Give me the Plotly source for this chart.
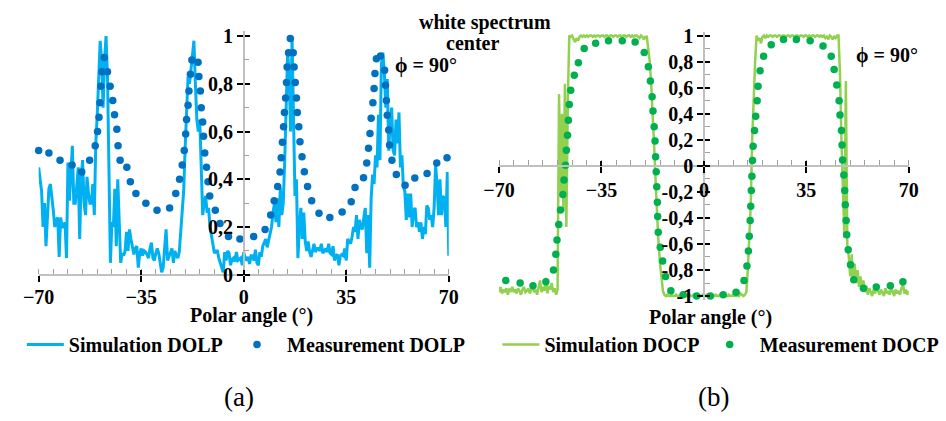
import numpy as np
import plotly.graph_objects as go

# ---------------- data ----------------
angle_start, angle_stop = -70, 70  # simulation sampled every 0.5 degree

sim_dolp = [
    0.45, 0.40, 0.35, 0.20, 0.30, 0.12, 0.25, 0.36, 0.38, 0.33, 0.27, 0.20, 0.23, 0.24, 0.075, 0.24, 0.20, 0.20, 0.22, 0.07,
    0.47, 0.31, 0.44, 0.54, 0.30, 0.30, 0.37, 0.45, 0.15, 0.40, 0.48, 0.30, 0.25, 0.41, 0.34, 0.30, 0.30, 0.38, 0.25, 0.55,
    0.67, 0.85, 0.98, 0.90, 0.70, 0.90, 1.00, 0.83, 0.45, 0.05, 0.22, 0.20, 0.36, 0.12, 0.40, 0.17, 0.05, 0.09, 0.08, 0.10,
    0.18, 0.10, 0.19, 0.15, 0.11, 0.085, 0.11, 0.12, 0.03, 0.09, 0.11, 0.08, 0.10, 0.095, 0.085, 0.07, 0.11, 0.135, 0.07, 0.06,
    0.09, 0.11, 0.09, 0.04, 0.01, 0.03, 0.12, 0.19, 0.06, 0.08, 0.10, 0.11, 0.05, 0.10, 0.08, 0.07, 0.095, 0.17, 0.28, 0.35,
    0.53, 0.71, 0.83, 0.80, 0.86, 0.95, 0.98, 0.80, 0.65, 0.60, 0.65, 0.45, 0.25, 0.30, 0.33, 0.26, 0.28, 0.20, 0.16, 0.12,
    0.09, 0.10, 0.10, 0.07, 0.05, 0.03, 0.01, 0.095, 0.06, 0.10, 0.09, 0.04, 0.065, 0.07, 0.055, 0.095, 0.06, 0.065, 0.07, 0.04,
    0.095, 0.07, 0.06, 0.075, 0.045, 0.08, 0.08, 0.06, 0.105, 0.05, 0.04, 0.095, 0.075, 0.12, 0.14, 0.15, 0.115, 0.14, 0.17, 0.20,
    0.26, 0.30, 0.22, 0.32, 0.20, 0.365, 0.25, 0.30, 0.48, 0.75, 0.93, 0.85, 0.60, 0.99, 0.60, 0.33, 0.40, 0.07, 0.20, 0.28,
    0.15, 0.26, 0.14, 0.10, 0.14, 0.095, 0.075, 0.10, 0.13, 0.095, 0.11, 0.11, 0.10, 0.13, 0.09, 0.10, 0.11, 0.095, 0.13, 0.09,
    0.085, 0.12, 0.06, 0.08, 0.085, 0.04, 0.08, 0.085, 0.08, 0.11, 0.06, 0.15, 0.14, 0.13, 0.16, 0.20, 0.18, 0.25, 0.15, 0.23,
    0.20, 0.19, 0.24, 0.28, 0.09, 0.25, 0.03, 0.32, 0.42, 0.38, 0.50, 0.45, 0.67, 0.48, 0.88, 0.93, 0.85, 0.70, 0.82, 0.52,
    0.64, 0.70, 0.52, 0.50, 0.65, 0.55, 0.68, 0.45, 0.50, 0.37, 0.35, 0.23, 0.34, 0.24, 0.34, 0.20, 0.27, 0.28, 0.20, 0.22,
    0.18, 0.22, 0.15, 0.20, 0.17, 0.29, 0.28, 0.23, 0.25, 0.20, 0.28, 0.46, 0.38, 0.25, 0.40, 0.25, 0.33, 0.32, 0.20, 0.43,
    0.08,
]

meas_dolp_angle = [
    -70, -66.5, -62.7, -58.6, -55.3, -52.6, -50.7, -49.9, -49.4, -49.1, -48.8, -48.4, -47.6, -46.5, -45.6, -44.7,
    -44.1, -43.3, -42.9, -42.2, -39.9, -38.7, -36.8, -33.4, -29.6, -25.3, -23.2, -21.9, -21.0, -20.3, -19.8, -19.5,
    -19.0, -18.7, -18.2, -17.7, -15.6, -15.3, -14.8, -14.5, -14.0, -13.7, -13.3, -12.7, -12.2, -11.6, -9.7, -8.1,
    -5.2, -1.3, 3.4, 7.3, 9.2, 10.4, 11.6, 12.4, 12.8, 13.2, 13.6, 13.9, 14.3, 14.6, 14.8, 15.3, 15.9, 16.9, 17.2,
    17.6, 18.0, 18.3, 18.8, 19.2, 19.9, 20.7, 21.8, 23.2, 25.7, 29.4, 33.6, 36.7, 38.0, 40.9, 42.0, 42.6, 43.1, 43.5,
    44.1, 44.5, 44.8, 45.3, 46.7, 48.1, 48.4, 48.7, 49.0, 49.5, 49.8, 50.6, 52.1, 55.1, 58.4, 62.6, 65.9, 69.4,
]
meas_dolp = [
    0.52, 0.51, 0.48, 0.46, 0.43, 0.48, 0.54, 0.60, 0.66, 0.72, 0.79, 0.85, 0.91, 0.85, 0.79, 0.73,
    0.67, 0.61, 0.54, 0.48, 0.45, 0.39, 0.34, 0.30, 0.27, 0.28, 0.34, 0.40, 0.46, 0.52, 0.59, 0.65,
    0.71, 0.77, 0.84, 0.90, 0.89, 0.83, 0.77, 0.70, 0.64, 0.58, 0.51, 0.45, 0.39, 0.33, 0.27, 0.215,
    0.16, 0.15, 0.16, 0.19, 0.25, 0.31, 0.37, 0.43, 0.49, 0.555, 0.62, 0.68, 0.74, 0.805, 0.87, 0.93, 0.99, 0.93, 0.87,
    0.805, 0.74, 0.68, 0.62, 0.557, 0.494, 0.432, 0.37, 0.31, 0.258, 0.24, 0.263, 0.306, 0.366, 0.406, 0.468, 0.53, 0.592, 0.656,
    0.72, 0.78, 0.843, 0.905, 0.916, 0.857, 0.794, 0.73, 0.668, 0.606, 0.544, 0.48, 0.42, 0.375, 0.405, 0.424, 0.468, 0.49,
]

sim_docp = [
    -0.97, -0.93, -0.98, -0.95, -0.97, -0.94, -0.99, -0.95, -0.96, -0.93, -0.97, -0.95, -0.98, -0.94, -0.96, -0.99, -0.95, -0.93, -0.97, -0.96,
    -0.94, -0.98, -0.95, -0.92, -0.97, -0.95, -0.99, -0.94, -0.88, -0.97, -0.93, -0.96, -0.86, -0.98, -0.92, -0.95, -0.90, -0.97, -0.94, -0.99,
    -0.95, 0.55, -0.20, 0.40, -0.35, 0.63, -0.47, 0.50, 1.00, 0.99, 1.00, 0.97, 0.95, 0.98, 0.96, 0.99, 1.00, 0.99, 1.00, 0.99,
    1.00, 0.99, 1.00, 1.00, 0.99, 1.00, 0.99, 1.00, 1.00, 0.99, 1.00, 1.00, 0.99, 1.00, 1.00, 0.99, 1.00, 1.00, 0.99, 1.00,
    1.00, 0.99, 1.00, 1.00, 0.99, 1.00, 1.00, 0.99, 1.00, 1.00, 0.99, 1.00, 0.99, 1.00, 1.00, 0.99, 0.98, 1.00, 0.99, 0.97,
    0.99, 0.99, 0.90, 0.80, 0.62, 0.42, 0.15, -0.12, -0.42, -0.60, -0.75, -0.87, -0.96, -0.99, -1.00, -0.99, -1.00, -1.00, -0.99, -1.00,
    -1.00, -0.99, -1.00, -1.00, -0.99, -1.00, -1.00, -0.99, -1.00, -1.00, -0.99, -1.00, -1.00, -0.99, -1.00, -1.00, -0.99, -1.00, -1.00, -0.99,
    -1.00, -1.00, -0.99, -1.00, -1.00, -0.99, -1.00, -1.00, -0.99, -1.00, -1.00, -0.99, -1.00, -1.00, -0.99, -1.00, -1.00, -0.99, -1.00, -1.00,
    -0.99, -1.00, -1.00, -0.99, -1.00, -0.98, -0.99, -1.00, -0.99, -0.97, -0.80, -0.55, -0.30, 0.20, 0.55, 0.80, 1.00, 0.96, 0.98, 0.94,
    0.99, 1.00, 0.98, 1.00, 0.99, 1.00, 1.00, 0.99, 1.00, 1.00, 0.99, 1.00, 1.00, 0.99, 1.00, 1.00, 0.99, 1.00, 1.00, 0.99,
    1.00, 1.00, 0.99, 1.00, 1.00, 0.99, 1.00, 1.00, 0.99, 1.00, 1.00, 0.99, 1.00, 0.99, 1.00, 1.00, 0.99, 1.00, 1.00, 0.99,
    1.00, 0.99, 1.00, 0.98, 0.99, 0.97, 1.00, 0.99, 0.97, 0.99, 0.98, 1.00, 1.00, 0.70, 0.20, -0.20, -0.55, 0.65, -0.60, -0.70,
    -0.85, -0.68, -0.90, -0.75, -0.90, -0.80, -0.93, -0.85, -0.95, -0.88, -0.97, -0.92, -0.99, -0.94, -0.97, -1.00, -0.95, -0.98, -0.93, -0.97,
    -0.99, -0.95, -0.97, -1.00, -0.94, -0.98, -0.96, -0.99, -0.93, -0.97, -1.00, -0.95, -0.98, -0.96, -0.99, -0.94, -0.90, -0.98, -0.95, -0.99,
    -0.96,
]

meas_docp_angle = [
    -67.7, -62.8, -58.4, -54.0, -51.4, -50.6, -50.2, -49.6, -49.0, -48.2, -47.8, -47.3, -47.0, -46.6, -46.3, -46.0,
    -45.5, -44.3, -42.9, -40.9, -37.0, -32.6, -27.9, -23.5, -20.4, -19.0, -18.3, -17.7, -17.4, -17.0, -16.7, -16.5,
    -16.3, -16.1, -15.9, -15.8, -15.6, -14.9, -14.1, -13.1, -11.3, -7.1, -2.5, 2.2, 6.6, 11.0, 13.7, 14.7, 15.2,
    15.5, 15.8, 16.0, 16.2, 16.4, 16.6, 16.8, 17.3, 17.7, 18.2, 18.5, 19.2, 20.4, 23.0, 27.2, 31.6, 36.3, 40.7,
    43.5, 44.5, 45.4, 46.2, 46.5, 47.0, 47.2, 47.4, 47.8, 48.1, 48.3, 48.6, 48.8, 49.3, 50.1, 51.2, 54.5, 58.9,
    63.7, 68.0,
]
meas_docp = [
    -0.88, -0.90, -0.92, -0.89, -0.80, -0.68, -0.57, -0.45, -0.34, -0.22, -0.11, 0.005, 0.12, 0.235, 0.35, 0.47,
    0.58, 0.695, 0.79, 0.90, 0.94, 0.96, 0.96, 0.95, 0.87, 0.76, 0.65, 0.53, 0.42, 0.30, 0.19, 0.07,
    -0.045, -0.16, -0.28, -0.39, -0.51, -0.625, -0.73, -0.85, -0.96, -0.99, -1.0, -1.0, -0.99, -0.97, -0.88, -0.77, -0.655,
    -0.54, -0.42, -0.31, -0.19, -0.08, 0.04, 0.15, 0.27, 0.38, 0.50, 0.61, 0.73, 0.84, 0.93, 0.97, 0.97, 0.96, 0.92,
    0.84, 0.74, 0.62, 0.50, 0.39, 0.27, 0.16, 0.045, -0.07, -0.19, -0.30, -0.42, -0.53, -0.645, -0.76, -0.875, -0.94, -0.93,
    -0.92, -0.89,
]

x_ticks = [-70, -35, 0, 35, 70]
dolp_ticks = [0, 0.2, 0.4, 0.6, 0.8, 1]
dolp_ticktext = ["0", "0,2", "0,4", "0,6", "0,8", "1"]
docp_ticks = [-1, -0.8, -0.6, -0.4, -0.2, 0, 0.2, 0.4, 0.6, 0.8, 1]
docp_ticktext = ["-1", "-0,8", "-0,6", "-0,4", "-0,2", "0", "0,2", "0,4", "0,6", "0,8", "1"]

# ---------------- figure ----------------
W, H = 946, 421
FONT = "Liberation Serif, Times New Roman, Tinos, serif"
sim_angle = np.linspace(angle_start, angle_stop, len(sim_dolp))
sim_angle2 = np.linspace(angle_start, angle_stop, len(sim_docp))

fig = go.Figure()
fig.add_trace(go.Scatter(x=sim_angle, y=sim_dolp, mode="lines", name="Simulation DOLP",
                         line=dict(color="#00B0F0", width=3), xaxis="x", yaxis="y", legend="legend"))
fig.add_trace(go.Scatter(x=meas_dolp_angle, y=meas_dolp, mode="markers", name="Measurement DOLP",
                         marker=dict(color="#0070C0", size=7.5), cliponaxis=False,
                         xaxis="x", yaxis="y", legend="legend2"))
fig.add_trace(go.Scatter(x=sim_angle2, y=sim_docp, mode="lines", name="Simulation DOCP",
                         line=dict(color="#92D050", width=2.5), xaxis="x2", yaxis="y2", legend="legend3"))
fig.add_trace(go.Scatter(x=meas_docp_angle, y=meas_docp, mode="markers", name="Measurement DOCP",
                         marker=dict(color="#00B050", size=7.5), cliponaxis=False,
                         xaxis="x2", yaxis="y2", legend="legend4"))
# empty helper traces so the tick-overlay axes (major ticks crossing the axis line) get drawn
fig.add_trace(go.Scatter(x=[], y=[], xaxis="x3", yaxis="y3", showlegend=False, hoverinfo="skip"))
fig.add_trace(go.Scatter(x=[], y=[], xaxis="x4", yaxis="y4", showlegend=False, hoverinfo="skip"))

tickfont = dict(family=FONT, size=20, color="black", weight="bold")
minor_x = dict(dtick=5, tick0=0, ticks="inside", ticklen=5, tickcolor="#A0A0A0", tickwidth=1)
minor_y = dict(dtick=0.1, tick0=0, ticks="inside", ticklen=5, tickcolor="#A0A0A0", tickwidth=1)
common = dict(showline=True, linecolor="#C0C0C0", linewidth=1.5, showgrid=False, zeroline=False,
              ticks="outside", ticklen=6, tickwidth=2, tickcolor="black", tickfont=tickfont,
              anchor="free", fixedrange=True)
overlay = dict(showline=False, showgrid=False, zeroline=False, ticks="inside", ticklen=5, tickwidth=2,
               tickcolor="black", showticklabels=False, anchor="free", fixedrange=True)

x1_dom = [23.3 / W, 445 / W]
y1_dom = [(H - 280.7) / H, (H - 25.06) / H]
x2_dom = [496.7 / W, 918 / W]
y2_dom = [(H - 303.04) / H, (H - 25.46) / H]
x1_pos = (H - 277) / H
y1_pos = (x1_dom[0] + x1_dom[1]) / 2
x2_pos = (H - 164.25) / H
y2_pos = (x2_dom[0] + x2_dom[1]) / 2
y1_range = [-0.015, 1.02]
y2_range = [-1.03, 1.03]

fig.update_layout(
    width=W, height=H, margin=dict(l=0, r=0, t=0, b=0),
    paper_bgcolor="white", plot_bgcolor="rgba(0,0,0,0)",
    xaxis=dict(domain=x1_dom, range=[-70, 70], position=x1_pos, tickvals=x_ticks, minor=minor_x,
               ticklabelstandoff=-2, **common),
    yaxis=dict(domain=y1_dom, range=y1_range, position=y1_pos, tickvals=dolp_ticks,
               ticktext=dolp_ticktext, minor=minor_y, **common),
    xaxis2=dict(domain=x2_dom, range=[-70, 70], position=x2_pos, tickvals=x_ticks, minor=minor_x, **common),
    yaxis2=dict(domain=y2_dom, range=y2_range, position=y2_pos, tickvals=docp_ticks,
                ticktext=docp_ticktext, minor=minor_y, **common),
    xaxis3=dict(overlaying="x", range=[-70, 70], position=x1_pos, tickvals=x_ticks, **overlay),
    yaxis3=dict(overlaying="y", range=y1_range, position=y1_pos, tickvals=dolp_ticks, **overlay),
    xaxis4=dict(overlaying="x2", range=[-70, 70], position=x2_pos, tickvals=x_ticks, **overlay),
    yaxis4=dict(overlaying="y2", range=y2_range, position=y2_pos, tickvals=docp_ticks, **overlay),
    showlegend=True,
)

legfont = dict(family=FONT, size=20, color="black", weight="bold")
ly = (H - 349) / H


def legend_box(px, itemwidth):
    return dict(x=px / W, y=ly, xanchor="left", yanchor="middle", itemwidth=itemwidth,
                font=legfont, bgcolor="rgba(0,0,0,0)", borderwidth=0, orientation="h")


fig.update_layout(
    legend=legend_box(6, 37),
    legend2=legend_box(217, 50),
    legend3=legend_box(495, 37),
    legend4=legend_box(703, 50),
)


def note(text, px, py, size=20, weight="bold"):
    fig.add_annotation(text=text, x=px / W, y=(H - py) / H, xref="paper", yref="paper",
                       xanchor="center", yanchor="middle", showarrow=False,
                       font=dict(family=FONT, size=size, color="black", weight=weight))


note("white spectrum", 482.5, 16)
note("center", 469, 37)
note("ϕ = 90°", 422, 60)
note("ϕ = 90°", 896, 50)
note("Polar angle (°)", 242.5, 319)
note("Polar angle (°)", 714, 321)
note("(a)", 229, 403, size=27, weight="normal")
note("(b)", 717, 403, size=27, weight="normal")

fig.write_html("out.html")
